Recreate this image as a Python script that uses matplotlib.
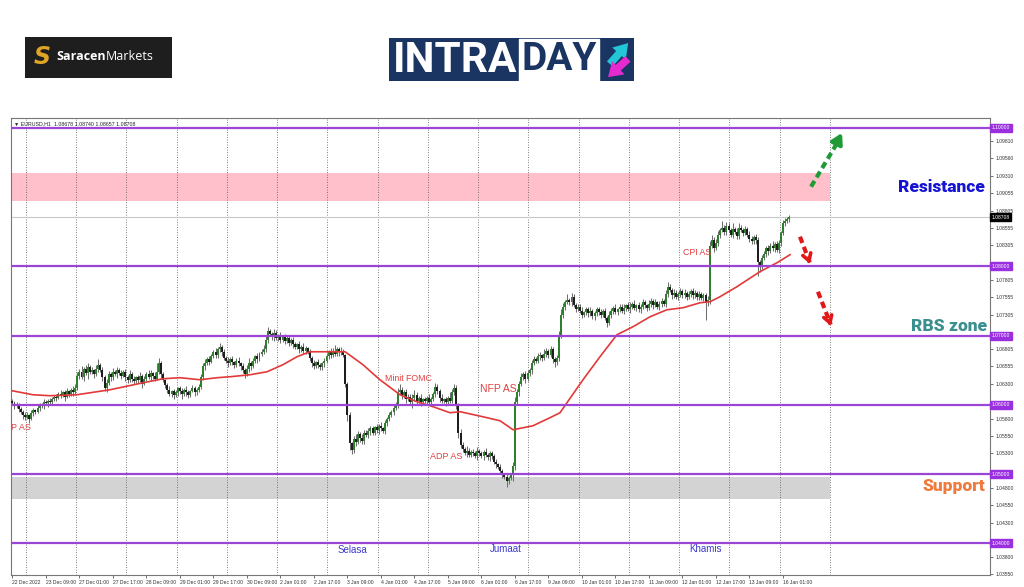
import numpy as np
import matplotlib.pyplot as plt
import matplotlib.transforms as mtransforms
from matplotlib.patches import Rectangle

# EURUSD H1, closes in pips above 1.0000
first_open = 605
close_pips = [
    603, 598, 600, 594, 590, 586, 582, 585, 580, 588,
    592, 590, 596, 600, 598, 604, 602, 606, 604, 608,
    612, 610, 616, 614, 618, 612, 620, 616, 622, 618,
    624, 642, 648, 640, 652, 646, 655, 648, 650, 644,
    652, 658, 650, 640, 624, 632, 645, 640, 648, 644,
    650, 646, 642, 648, 640, 636, 644, 638, 634, 640,
    636, 642, 630, 638, 644, 640, 646, 642, 638, 648,
    660, 644, 636, 628, 622, 616, 620, 614, 618, 624,
    620, 616, 622, 618, 614, 620, 624, 618, 622, 626,
    640, 656, 660, 666, 662, 670, 676, 672, 680, 684,
    676, 668, 664, 660, 666, 662, 658, 664, 660, 656,
    650, 644, 652, 660, 656, 664, 670, 666, 674, 676,
    680, 694, 706, 702, 698, 704, 696, 700, 694, 698,
    692, 696, 690, 694, 688, 684, 688, 680, 684, 678,
    682, 676, 668, 660, 656, 662, 658, 654, 660, 664,
    670, 676, 672, 678, 674, 680, 676, 678, 672, 630,
    585, 545, 535, 550, 546, 558, 552, 548, 560, 556,
    562, 566, 560, 568, 564, 570, 566, 562, 574, 580,
    586, 590, 596, 600, 618, 622, 614, 618, 608, 612,
    604, 610, 614, 606, 610, 604, 608, 606, 610, 604,
    608, 616, 626, 620, 610, 606, 608, 604, 610, 606,
    618, 624, 600, 560, 542, 536, 530, 534, 528, 532,
    530, 526, 534, 530, 526, 532, 528, 524, 530, 526,
    518, 514, 510, 504, 500, 496, 490, 494, 500, 512,
    604, 618, 630, 640, 644, 638, 646, 650, 660, 666,
    664, 670, 672, 668, 674, 678, 672, 680, 666, 662,
    668, 700, 730, 742, 748, 752, 748, 756, 744, 738,
    742, 736, 730, 734, 738, 732, 736, 728, 732, 738,
    734, 730, 736, 726, 718, 730, 736, 740, 734, 738,
    742, 736, 740, 744, 738, 742, 746, 740, 744, 738,
    742, 748, 744, 740, 746, 750, 744, 748, 742, 746,
    750, 746, 760, 770, 766, 758, 762, 756, 760, 764,
    758, 762, 756, 760, 764, 758, 762, 756, 760, 754,
    758, 748, 752, 830, 838, 826, 834, 846, 852, 856,
    850, 858, 852, 846, 854, 850, 844, 856, 852, 848,
    854, 846, 840, 836, 842, 838, 806, 800, 812, 818,
    826, 822, 830, 826, 832, 824, 834, 848, 862, 866,
    868, 870.8,
]
wick_up = [
    3, 2, 4, 2, 3, 2, 3, 5, 2, 4,
    3, 2, 4, 3, 2, 5, 3, 2, 4, 3,
    2, 4, 3, 5, 2, 3, 4, 2, 3, 5,
    6, 5, 4, 8, 3, 5, 6, 3, 4, 2,
    5, 8, 3, 4, 3, 6, 4, 3, 5, 2,
    4, 3, 5, 2, 4, 3, 6, 4, 3, 2,
    3, 5, 2, 4, 3, 6, 4, 2, 5, 12,
    8, 3, 4, 2, 3, 5, 2, 3, 4, 2,
    3, 4, 2, 5, 3, 2, 4, 3, 2, 4,
    5, 4, 6, 3, 5, 4, 3, 6, 4, 5,
    3, 4, 2, 5, 3, 4, 2, 3, 5, 2,
    4, 3, 5, 8, 3, 4, 2, 5, 3, 4,
    6, 5, 6, 4, 3, 5, 4, 3, 5, 2,
    4, 3, 5, 2, 4, 3, 2, 4, 3, 5,
    3, 2, 4, 3, 5, 2, 4, 3, 2, 4,
    5, 3, 6, 4, 8, 3, 4, 5, 3, 2,
    3, 4, 2, 5, 8, 4, 3, 6, 4, 3,
    5, 3, 4, 2, 4, 3, 5, 2, 4, 3,
    4, 3, 5, 4, 6, 8, 4, 3, 5, 4,
    3, 5, 8, 4, 3, 5, 2, 4, 3, 5,
    4, 3, 6, 4, 3, 5, 2, 4, 3, 8,
    5, 6, 4, 3, 5, 4, 3, 6, 4, 3,
    4, 3, 5, 2, 4, 3, 5, 2, 4, 3,
    3, 4, 2, 5, 3, 2, 4, 3, 2, 6,
    8, 5, 4, 6, 3, 5, 4, 3, 5, 4,
    3, 5, 4, 2, 6, 4, 3, 5, 4, 3,
    4, 6, 8, 5, 4, 8, 3, 6, 4, 3,
    4, 3, 5, 2, 4, 3, 5, 2, 4, 3,
    3, 5, 2, 4, 3, 5, 4, 3, 5, 2,
    4, 3, 5, 2, 4, 6, 3, 5, 2, 4,
    3, 5, 4, 2, 6, 4, 3, 5, 2, 4,
    5, 3, 6, 8, 4, 3, 5, 4, 3, 5,
    3, 5, 2, 4, 3, 5, 4, 2, 5, 3,
    4, 3, 5, 6, 8, 4, 6, 5, 4, 10,
    4, 6, 5, 4, 8, 3, 5, 6, 4, 3,
    4, 3, 5, 4, 3, 5, 4, 3, 5, 4,
    3, 5, 4, 6, 3, 5, 4, 3, 5, 4,
    3, 4,
]
wick_dn = [
    3, 4, 2, 5, 3, 6, 4, 3, 6, 2,
    4, 3, 2, 5, 3, 4, 2, 5, 3, 4,
    3, 5, 2, 4, 3, 6, 2, 4, 3, 5,
    4, 3, 5, 2, 6, 3, 8, 4, 3, 5,
    3, 4, 2, 5, 4, 6, 3, 5, 4, 3,
    5, 3, 4, 2, 5, 4, 3, 5, 4, 3,
    4, 3, 5, 2, 4, 3, 5, 4, 3, 2,
    4, 5, 3, 4, 5, 3, 4, 6, 3, 5,
    4, 8, 3, 5, 4, 3, 2, 5, 4, 3,
    3, 4, 5, 3, 4, 2, 3, 4, 5, 3,
    5, 3, 4, 6, 3, 4, 5, 3, 4, 5,
    4, 5, 3, 4, 6, 3, 4, 5, 3, 4,
    3, 4, 5, 3, 4, 6, 3, 4, 5, 3,
    4, 3, 5, 4, 6, 3, 4, 5, 3, 4,
    5, 3, 4, 6, 4, 3, 5, 4, 3, 5,
    3, 4, 5, 3, 4, 3, 5, 4, 3, 4,
    8, 10, 6, 4, 5, 3, 6, 4, 5, 3,
    4, 5, 3, 4, 5, 6, 4, 3, 4, 5,
    3, 4, 5, 3, 4, 3, 5, 4, 6, 3,
    4, 8, 3, 5, 4, 6, 3, 4, 5, 3,
    4, 3, 5, 4, 6, 3, 4, 5, 3, 4,
    3, 4, 6, 8, 5, 4, 3, 5, 4, 3,
    4, 3, 5, 4, 3, 5, 4, 3, 5, 4,
    4, 5, 3, 4, 5, 3, 8, 4, 3, 10,
    6, 4, 5, 3, 4, 6, 3, 4, 5, 3,
    4, 3, 5, 4, 3, 5, 4, 3, 6, 8,
    4, 5, 3, 4, 5, 3, 4, 5, 3, 4,
    3, 4, 5, 3, 4, 5, 3, 4, 6, 3,
    4, 5, 3, 4, 6, 3, 4, 5, 3, 4,
    4, 3, 5, 4, 3, 5, 4, 3, 5, 4,
    5, 3, 4, 5, 3, 4, 5, 3, 4, 5,
    4, 3, 5, 4, 3, 5, 4, 3, 5, 4,
    3, 4, 5, 3, 4, 5, 3, 4, 5, 3,
    4, 25, 5, 6, 4, 5, 3, 4, 5, 3,
    4, 5, 3, 4, 5, 3, 4, 5, 3, 4,
    3, 4, 5, 3, 4, 6, 20, 8, 4, 3,
    4, 5, 3, 4, 5, 3, 4, 5, 3, 4,
    3, 4,
]

# red moving average, sampled along the line (bar index, price)
ma_bars = [-0.2, 9.8, 18.0, 30.8, 46.6, 62.4, 71.9, 80.0, 89.6, 97.7, 103.9,
           113.5, 121.6, 129.2, 135.9, 142.1, 151.7, 158.9, 167.4, 175.5, 185.1,
           193.2, 200.9, 209.0, 213.8, 224.7, 232.9, 239.1, 248.6, 256.7, 261.5,
           272.5, 280.6, 288.7, 296.4, 304.5, 312.6, 320.3, 328.4, 333.2, 337.9,
           346.0, 357.0, 365.2, 371.4]
ma_vals = [1.06204, 1.06146, 1.06132, 1.06146, 1.06218, 1.06319, 1.06377, 1.06392,
           1.06363, 1.06392, 1.06406, 1.06435, 1.06478, 1.06580, 1.06695, 1.06767,
           1.06767, 1.06767, 1.06580, 1.06363, 1.06146, 1.06045, 1.05973, 1.05886,
           1.05901, 1.05828, 1.05770, 1.05640, 1.05698, 1.05814, 1.05886, 1.06363,
           1.06695, 1.07013, 1.07129, 1.07273, 1.07374, 1.07403, 1.07475, 1.07490,
           1.07562, 1.07707, 1.07924, 1.08054, 1.08170]

x_labels = ['22 Dec 2022', '23 Dec 09:00', '27 Dec 01:00', '27 Dec 17:00', '28 Dec 09:00',
            '29 Dec 01:00', '29 Dec 17:00', '30 Dec 09:00', '2 Jan 01:00', '2 Jan 17:00',
            '3 Jan 09:00', '4 Jan 01:00', '4 Jan 17:00', '5 Jan 09:00', '6 Jan 01:00',
            '6 Jan 17:00', '9 Jan 09:00', '10 Jan 01:00', '10 Jan 17:00', '11 Jan 09:00',
            '12 Jan 01:00', '12 Jan 17:00', '13 Jan 09:00', '16 Jan 01:00']
y_ticks = [1.03550, 1.03800, 1.04300, 1.04550, 1.04800, 1.05300, 1.05550, 1.05800,
           1.06300, 1.06555, 1.06805, 1.07305, 1.07555, 1.07805, 1.08305, 1.08555,
           1.08805, 1.09055, 1.09310, 1.09560, 1.09810]
levels = [1.10, 1.08, 1.07, 1.06, 1.05, 1.04]
last_price = 1.08708
resistance_zone = (1.0895, 1.0935)
support_zone = (1.0464, 1.0496)

W, H = 1024, 587
fig = plt.figure(figsize=(W / 100, H / 100), dpi=100)
ax = fig.add_axes([11 / W, 12 / H, 979.3 / W, 457 / H])
ax.set_xlim(-0.67, 467.0)
ax.set_ylim(1.03542, 1.10144)

closes = 1 + np.array(close_pips) / 10000
opens = np.r_[first_open / 10000 + 1, closes[:-1]]
highs = np.maximum(opens, closes) + np.array(wick_up) / 10000
lows = np.minimum(opens, closes) - np.array(wick_dn) / 10000
idx = np.arange(len(closes))

# zones
zone_end = (830 - 11) / 979.3
ax.axhspan(*resistance_zone, xmin=0, xmax=zone_end, color='#ffc0cb', lw=0, zorder=0)
ax.axhspan(*support_zone, xmin=0, xmax=zone_end, color='#d3d3d3', lw=0, zorder=0)

# dotted day grid
for k in range(17):
    ax.axvline(6.4 + 24 * k, color='#555555', ls=(0, (1, 2)), lw=0.6, zorder=1)

ax.axhline(last_price, color='#c8c8c8', lw=0.8, zorder=1)

# candles
ax.vlines(idx, lows, highs, color='#6e6e6e', lw=0.75, zorder=2)
up = closes >= opens
body = np.where(np.abs(closes - opens) < 0.00004, 0.00004, closes - opens)
ax.bar(idx, body, bottom=opens, width=0.95,
       color=np.where(up, '#2f7f2f', '#1e1e1e'), lw=0, zorder=3)

ax.plot(ma_bars, ma_vals, color='#e23a3a', lw=1.2, zorder=4)

for lv in levels:
    ax.axhline(lv, color='#9b45d6', lw=1.6, zorder=5)

blend = mtransforms.blended_transform_factory(ax.transAxes, ax.transData)
for lv in levels:
    ax.text(1.0015, lv, f'{lv:.5f}', transform=blend, fontsize=3.6, color='white',
            family='Liberation Sans', va='center', ha='left', clip_on=False,
            bbox=dict(boxstyle='square,pad=0.3', fc='#9a2fe0', ec='#9a2fe0'))
ax.text(1.0015, last_price, f'{last_price:.5f}', transform=blend, fontsize=3.6,
        color='white', family='Liberation Sans', va='center', ha='left', clip_on=False,
        bbox=dict(boxstyle='square,pad=0.3', fc='black', ec='black'))

# axes styling
ax.yaxis.tick_right()
ax.set_yticks(y_ticks)
ax.set_yticklabels([f'{v:.5f}' for v in y_ticks])
ax.set_xticks(np.arange(len(x_labels)) * 16)
ax.set_xticklabels(x_labels, ha='left')
ax.tick_params(labelsize=3.6, colors='#333333', length=2, width=0.5, pad=1.5)
for lab in ax.get_xticklabels() + ax.get_yticklabels():
    lab.set_family('Liberation Sans')
for s in ax.spines.values():
    s.set_color('#777777')
    s.set_linewidth(0.8)

ax.text(0.003, 0.992, '\u25bc EURUSD,H1  1.08678 1.08740 1.08657 1.08708',
        transform=ax.transAxes, fontsize=3.8, family='Liberation Sans',
        va='top', ha='left', color='#222222')

# event notes
red = '#e04040'
note_kw = dict(color=red, family='Liberation Sans', va='center')
ax.text(-0.7, 1.05669, 'P AS', fontsize=6.5, ha='left', **note_kw)
ax.text(188.9, 1.06377, 'Minit FOMC', fontsize=6.3, ha='center', **note_kw)
ax.text(231.9, 1.06232, 'NFP AS', fontsize=7.5, ha='center', **note_kw)
ax.text(207.1, 1.05250, 'ADP AS', fontsize=6.5, ha='center', **note_kw)
ax.text(326.9, 1.08198, 'CPI AS', fontsize=6.3, ha='center', **note_kw)

day_kw = dict(color='#3a3acc', family='Liberation Sans', fontsize=7, ha='center', va='center')
ax.text(162.6, 1.03903, 'Selasa', **day_kw)
ax.text(235.7, 1.03918, 'Jumaat', **day_kw)
ax.text(330.8, 1.03918, 'Khamis', **day_kw)

zone_kw = dict(family='Roboto', fontweight='heavy', fontsize=12.5, ha='right', va='center')
ax.text(464.4, 1.09152, 'Resistance', color='#1414d2', **zone_kw)
ax.text(465.4, 1.07143, 'RBS zone', color='#3a8f8f', **zone_kw)
ax.text(464.4, 1.04832, 'Support', color='#f07a3c', **zone_kw)

# direction arrows
green = '#1f9a35'
ax.plot([381.4, 394.8], [1.09152, 1.09830], color=green, lw=3, ls=(0, (1.6, 1.0)), zorder=6)
ax.annotate('', xy=(396.8, 1.09965), xytext=(393.0, 1.09740), zorder=6,
            arrowprops=dict(arrowstyle='-|>,head_width=0.35,head_length=0.6',
                            color=green, lw=3))
for (x0, y0), (x1, y1) in [((376.1, 1.08429), (381.4, 1.07996)),
                           ((384.7, 1.07634), (391.4, 1.07100))]:
    ax.plot([x0, x1 - 0.6], [y0, y1 + 0.0006], color='#e01818', lw=3,
            ls=(0, (1.6, 1.0)), zorder=6)
    ax.annotate('', xy=(x1, y1), xytext=(x1 - 1.8, y1 + 0.0016), zorder=6,
                arrowprops=dict(arrowstyle='->,head_width=0.3,head_length=0.5',
                                color='#e01818', lw=2.6))

# logos (backgrounds below the axes so chained labels show on top)
def fig_rect(x, y, w, h, color):
    fig.add_artist(Rectangle((x / W, 1 - (y + h) / H), w / W, h / H,
                             transform=fig.transFigure, color=color, lw=0, zorder=-1))

fig_rect(25, 37, 147, 41, '#1e1e1e')
fig.text(42 / W, 1 - 57 / H, 'S', fontsize=17, fontweight='bold', style='italic',
         color='#e0a526', ha='center', va='center', family='DejaVu Sans')
t1 = fig.text(56 / W, 1 - 57 / H, 'Saracen', fontsize=9, fontweight='bold',
              color='white', va='center', family='Open Sans')
ax.annotate('Markets', xy=(1, 0.5), xycoords=t1, fontsize=9, color='white',
            va='center', ha='left', family='Open Sans', annotation_clip=False)

fig_rect(389, 38, 245, 43, '#1b3563')
t2 = fig.text(393 / W, 1 - 60 / H, 'INTRA', fontsize=30.5, fontweight='bold',
              color='white', va='center', family='Roboto')
ax.annotate('DAY', xy=(1, 0.5), xycoords=t2, xytext=(3, 0), textcoords='offset points',
            fontsize=28, fontweight='bold', color='#1b3563', va='center', ha='left',
            family='Roboto', annotation_clip=False,
            bbox=dict(boxstyle='square,pad=0.06', fc='white', ec='white'))
ax.annotate('', xy=(630, H - 41), xycoords='figure pixels', xytext=(608, H - 66),
            annotation_clip=False,
            arrowprops=dict(arrowstyle='simple,head_width=1.3,head_length=1.0,tail_width=0.55',
                            color='#22c6d6', lw=0))
ax.annotate('', xy=(606, H - 79), xycoords='figure pixels', xytext=(630, H - 57),
            annotation_clip=False,
            arrowprops=dict(arrowstyle='simple,head_width=1.3,head_length=1.0,tail_width=0.55',
                            color='#e52ad0', lw=0))

fig.savefig('out.png', dpi=100)
